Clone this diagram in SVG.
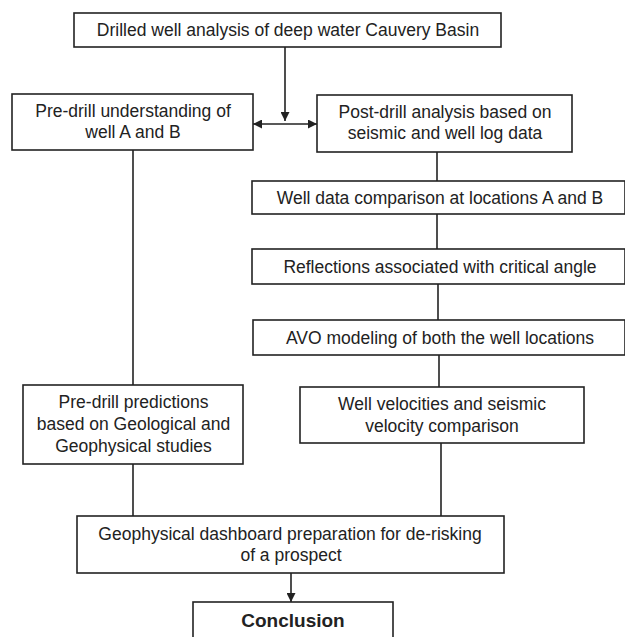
<svg xmlns="http://www.w3.org/2000/svg" width="625" height="637" viewBox="0 0 625 637">
<style>
  .box{fill:#fff;stroke:#222;stroke-width:1.6}
  .t{font-family:"Liberation Sans",Arial,sans-serif;font-size:17.5px;fill:#222;text-anchor:middle}
  .b{font-weight:bold;font-size:19px}
  .ln{stroke:#222;stroke-width:1.6;fill:none}
</style>
<defs>
  <marker id="ah" viewBox="0 0 10 10" refX="10" refY="5" markerWidth="9" markerHeight="9" markerUnits="userSpaceOnUse" orient="auto-start-reverse">
    <path d="M0,0 L10,5 L0,10 Z" fill="#222"/>
  </marker>
</defs>
<rect width="625" height="637" fill="#fff"/>
<g id="connectors">
  <line class="ln" x1="285" y1="47" x2="285" y2="121" marker-end="url(#ah)"/>
  <line class="ln" x1="253" y1="124" x2="317" y2="124" marker-start="url(#ah)" marker-end="url(#ah)"/>
  <line class="ln" x1="133" y1="150" x2="133" y2="385"/>
  <line class="ln" x1="437" y1="152" x2="437" y2="181"/>
  <line class="ln" x1="437" y1="214" x2="437" y2="249"/>
  <line class="ln" x1="438" y1="284" x2="438" y2="320"/>
  <line class="ln" x1="439" y1="355" x2="439" y2="387"/>
  <line class="ln" x1="441" y1="443" x2="441" y2="516"/>
  <line class="ln" x1="133" y1="464" x2="133" y2="516"/>
  <line class="ln" x1="291" y1="573" x2="291" y2="602" marker-end="url(#ah)"/>
</g>
<g id="n-top">
  <rect class="box" x="74" y="13" width="427" height="34"/>
  <text class="t" x="288" y="36">Drilled well analysis of deep water Cauvery Basin</text>
</g>
<g id="n-predrill-understanding">
  <rect class="box" x="12" y="94" width="241" height="56"/>
  <text class="t" x="133" y="117">Pre-drill understanding of</text>
  <text class="t" x="133" y="138">well A and B</text>
</g>
<g id="n-postdrill">
  <rect class="box" x="317" y="95" width="255" height="57"/>
  <text class="t" x="445" y="118">Post-drill analysis based on</text>
  <text class="t" x="445" y="139">seismic and well log data</text>
</g>
<g id="n-welldata">
  <rect class="box" x="252" y="181" width="373" height="33"/>
  <text class="t" x="440" y="203.5">Well data comparison at locations A and B</text>
</g>
<g id="n-reflections">
  <rect class="box" x="252" y="249" width="373" height="35"/>
  <text class="t" x="440" y="272.5">Reflections associated with critical angle</text>
</g>
<g id="n-avo">
  <rect class="box" x="253" y="320" width="372" height="35"/>
  <text class="t" x="440" y="343.5">AVO modeling of both the well locations</text>
</g>
<g id="n-predictions">
  <rect class="box" x="23" y="385" width="220" height="79"/>
  <text class="t" x="133.5" y="408">Pre-drill predictions</text>
  <text class="t" x="133.5" y="430">based on Geological and</text>
  <text class="t" x="133.5" y="452">Geophysical studies</text>
</g>
<g id="n-velocities">
  <rect class="box" x="300" y="387" width="284" height="56"/>
  <text class="t" x="442" y="410">Well velocities and seismic</text>
  <text class="t" x="442" y="432">velocity comparison</text>
</g>
<g id="n-dashboard">
  <rect class="box" x="77" y="516" width="427" height="57"/>
  <text class="t" x="290" y="540">Geophysical dashboard preparation for de-risking</text>
  <text class="t" x="291" y="561">of a prospect</text>
</g>
<g id="n-conclusion">
  <rect class="box" x="193" y="602" width="200" height="45"/>
  <text class="t b" x="293" y="627">Conclusion</text>
</g>
</svg>
